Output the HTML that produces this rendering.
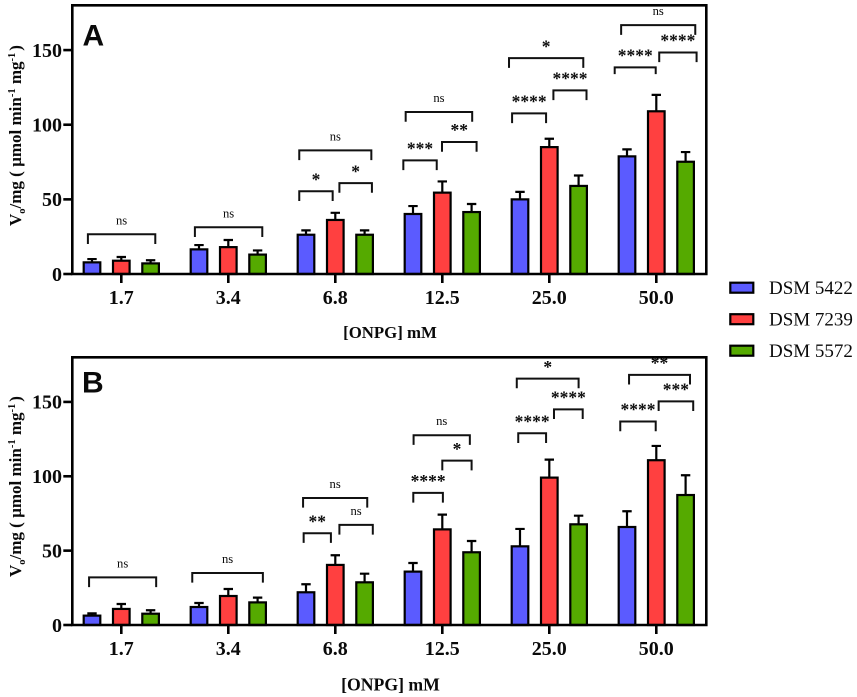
<!DOCTYPE html>
<html lang="en">
<head>
<meta charset="utf-8">
<title>Initial velocity vs ONPG concentration</title>
<style>
html,body{margin:0;padding:0;background:#fff;}
#chart{display:block;width:857px;height:697px;filter:blur(0.35px);}
text{font-family:"Liberation Serif",serif;fill:#0a0a0a;}
</style>
</head>
<body>
<svg id="chart" xmlns="http://www.w3.org/2000/svg" width="857" height="697" viewBox="0 0 857 697"></svg>
<script>
const categories = ["1.7", "3.4", "6.8", "12.5", "25.0", "50.0"];
const yTicks = [0, 50, 100, 150];
const seriesNames = ["DSM 5422", "DSM 7239", "DSM 5572"];
const seriesColors = ["#5b5bff", "#ff4040", "#55aa00"];

const panelAMeans5422 = [7.8, 16.5, 26.3, 40.2, 50, 78.8];
const panelAErrors5422 = [2.2, 2.9, 2.9, 5.3, 5, 4.7];
const panelAMeans7239 = [8.9, 18, 36.2, 54.5, 85, 109];
const panelAErrors7239 = [2.5, 4.8, 4.8, 7.5, 5.6, 11];
const panelAMeans5572 = [7.1, 13, 26.3, 41.5, 59, 75.2];
const panelAErrors5572 = [2.1, 2.8, 2.9, 5.4, 7, 6.5];

const panelBMeans5422 = [6.3, 12.1, 22, 35.9, 52.9, 65.9];
const panelBErrors5422 = [1.5, 2.7, 5.4, 5.8, 11.7, 10.6];
const panelBMeans7239 = [10.8, 19.5, 40.4, 64.3, 99.1, 110.8];
const panelBErrors7239 = [3.3, 4.7, 6.5, 9.9, 12.1, 9.6];
const panelBMeans5572 = [7.6, 15.2, 28.7, 48.9, 67.7, 87.4];
const panelBErrors5572 = [2.3, 3.2, 5.8, 7.6, 5.8, 13.3];

/* Significance comparisons: category index, span in bar-step units around the group
   centre, level on the value axis, end-drop in value units, printed result. */
const panelAComparisons = [
  [0, -1.14, 1.16, 26.6, 6.5, "ns"],
  [1, -1.14, 1.16, 31.3, 6.5, "ns"],
  [2, -1.23, 1.23, 82.8, 6.5, "ns"],
  [2, -1.23, -0.09, 55.4, 6.5, "*"],
  [2, 0.14, 1.25, 60.9, 6.5, "*"],
  [3, -1.25, 1.02, 108.5, 6.5, "ns"],
  [3, -1.33, -0.19, 76.1, 6.5, "***"],
  [3, -0.01, 1.17, 88.4, 6.5, "**"],
  [4, -1.375, 1.16, 144.6, 6.5, "*"],
  [4, -1.27, -0.11, 107.6, 6.5, "****"],
  [4, 0.14, 1.27, 123, 6.5, "****"],
  [5, -1.2, 1.33, 166.7, 6.5, "ns"],
  [5, -1.42, -0.02, 138.4, 4.5, "****"],
  [5, 0.1, 1.375, 148.4, 6.5, "****"]
];
const panelBComparisons = [
  [0, -1.1, 1.19, 32, 6.5, "ns"],
  [1, -1.23, 1.18, 35, 6.5, "ns"],
  [2, -1.1, 1.09, 85.4, 6.5, "ns"],
  [2, -1.08, -0.15, 61.7, 6.5, "**"],
  [2, 0.14, 1.28, 67.3, 6.5, "ns"],
  [3, -0.98, 0.94, 127.6, 6.5, "ns"],
  [3, -0.99, 0.02, 88.8, 6.5, "****"],
  [3, 0, 1, 110.5, 6.5, "*"],
  [4, -1.11, 1, 165.7, 6.5, "*"],
  [4, -1.06, -0.11, 128.9, 6.5, "****"],
  [4, 0.16, 1.14, 145, 6.5, "****"],
  [5, -0.93, 1.15, 168.2, 6.5, "**"],
  [5, -1.23, -0.02, 136.8, 6.5, "****"],
  [5, 0.08, 1.26, 150.4, 6.5, "***"]
];

const svg = document.getElementById("chart");
const NS = "http://www.w3.org/2000/svg";

function mk(parent, tag, geometry, content) {
  const el = document.createElementNS(NS, tag);
  for (const k in geometry) el.setAttribute(k, geometry[k]);
  if (content !== undefined) el.textContent = content;
  parent.appendChild(el);
  return el;
}

function drawPanel(cfg) {
  const left = 72.3, right = 706.3, domainMax = 180;
  const firstCentre = 121.3, groupStep = 107, barStep = 29.3, barWidth = 16.6;
  const yScale = v => cfg.baseline - (v / domainMax) * (cfg.baseline - cfg.top);
  const xScale = (i, offset) => firstCentre + i * groupStep + offset * barStep;
  const slug = cfg.letter.toLowerCase();

  const g = mk(svg, "g", {});
  
  

  const barsLayer = mk(g, "g", {});
  
  

  cfg.means.forEach((seriesMeans, s) => {
    const key = seriesNames[s].toLowerCase().replace(" ", "-");
    seriesMeans.forEach((m, i) => {
      const cx = xScale(i, s - 1);
      const yTop = yScale(m), yErr = yScale(m + cfg.errors[s][i]);
      const stem = mk(barsLayer, "path", {
        d: "M" + cx + " " + yTop + "V" + yErr + "M" + (cx - 4.7) + " " + yErr + "H" + (cx + 4.7),
        fill: "none", stroke: "#000", "stroke-width": 2.2
      });
      
      
      const bar = mk(barsLayer, "rect", {
        x: cx - barWidth / 2, y: yTop, width: barWidth, height: cfg.baseline - yTop,
        fill: seriesColors[s], stroke: "#000", "stroke-width": 2.2
      });
      
      
    });
  });

  const frame = mk(g, "path", {
    d: "M" + left + " " + cfg.baseline + "V" + cfg.top + "H" + right + "V" + cfg.baseline + "Z",
    fill: "none", stroke: "#000", "stroke-width": 2.6
  });
  
  

  yTicks.forEach(t => {
    const y = yScale(t);
    const tick = mk(g, "line", { x1: 63.3, x2: left, y1: y, y2: y, stroke: "#000", "stroke-width": 2.6 });
    
    
    const label = mk(g, "text", {
      x: 62, y: y + 6.8, "text-anchor": "end", "font-size": 20, "font-weight": "bold"
    }, String(t));
    
    
  });

  categories.forEach((c, i) => {
    const x = xScale(i, 0);
    const tick = mk(g, "line", { x1: x, x2: x, y1: cfg.baseline, y2: cfg.baseline + 9, stroke: "#000", "stroke-width": 2.6 });
    
    
    const label = mk(g, "text", {
      x: x, y: cfg.baseline + 30, "text-anchor": "middle", "font-size": 20, "font-weight": "bold"
    }, c);
    
    
  });

  const comps = mk(g, "g", {});
  
  
  cfg.comparisons.forEach((b, n) => {
    const x1 = xScale(b[0], b[1]), x2 = xScale(b[0], b[2]);
    const y = yScale(b[3]), yEnd = yScale(b[3] - b[4]);
    const bracket = mk(comps, "path", {
      d: "M" + x1 + " " + yEnd + "V" + y + "H" + x2 + "V" + yEnd,
      fill: "none", stroke: "#111", "stroke-width": 2
    });
    
    
    const isNs = b[5] === "ns";
    const text = mk(comps, "text", {
      x: (x1 + x2) / 2, y: isNs ? y - 10 : y - 5.8, "text-anchor": "middle",
      "font-size": isNs ? 12.6 : 17.5, "font-weight": isNs ? "normal" : "bold"
    }, b[5]);
    
    
  });

  const letter = mk(g, "text", {
    x: cfg.letterX, y: cfg.letterY, "font-size": 30, "font-weight": "bold",
    style: 'font-family:"Liberation Sans",sans-serif'
  }, cfg.letter);
  
  

  const xTitle = mk(g, "text", {
    x: cfg.xTitleX, y: cfg.xTitleY, "text-anchor": "middle",
    "font-size": cfg.xTitleSize, "font-weight": "bold"
  }, "[ONPG] mM");
  
  

  const yTitle = mk(g, "text", {
    transform: "translate(21," + cfg.yTitleStart + ") rotate(-90)",
    "font-size": 17, "font-weight": "bold", "xml:space": "preserve"
  });
  
  
  mk(yTitle, "tspan", {}, "V");
  mk(yTitle, "tspan", { "font-size": 10.5, dy: 4 }, "o");
  mk(yTitle, "tspan", { dy: -4 }, "/mg ( \u00b5mol min");
  mk(yTitle, "tspan", { "font-size": 10.5, dy: -6 }, "-1");
  mk(yTitle, "tspan", { dy: 6 }, " mg");
  mk(yTitle, "tspan", { "font-size": 10.5, dy: -6 }, "-1");
  mk(yTitle, "tspan", { dy: 6, dx: 2 }, ")");
}

drawPanel({
  letter: "A", top: 5.3, baseline: 274, letterX: 82.5, letterY: 45.7,
  xTitleX: 390, xTitleY: 338, xTitleSize: 16.8, yTitleStart: 226,
  means: [panelAMeans5422, panelAMeans7239, panelAMeans5572],
  errors: [panelAErrors5422, panelAErrors7239, panelAErrors5572],
  comparisons: panelAComparisons
});
drawPanel({
  letter: "B", top: 357.3, baseline: 625, letterX: 82, letterY: 392.3,
  xTitleX: 390.5, xTitleY: 690.7, xTitleSize: 17.7, yTitleStart: 577,
  means: [panelBMeans5422, panelBMeans7239, panelBMeans5572],
  errors: [panelBErrors5422, panelBErrors7239, panelBErrors5572],
  comparisons: panelBComparisons
});

const legend = mk(svg, "g", {});


seriesNames.forEach((name, s) => {
  const cy = 287.7 + s * 31.5;
  const key = name.toLowerCase().replace(" ", "-");
  const swatch = mk(legend, "rect", {
    x: 730.3, y: cy - 5, width: 23, height: 10,
    fill: seriesColors[s], stroke: "#000", "stroke-width": 2.2
  });
  
  
  const label = mk(legend, "text", { x: 769, y: cy + 6.3, "font-size": 19 }, name);
  
  
});
</script>
</body>
</html>
